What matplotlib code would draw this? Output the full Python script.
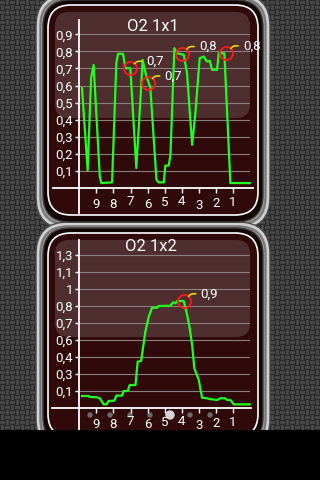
import numpy as np
import matplotlib
matplotlib.use('Agg')
import matplotlib.pyplot as plt
from matplotlib.patches import FancyBboxPatch, Circle, Rectangle

plt.rcParams['font.family'] = ['Roboto', 'DejaVu Sans']

# ---- data (seconds ago, sensor voltage) ----
t1 = [9.84, 9.51, 9.31, 9.16, 8.80, 8.71, 8.08, 7.83, 7.73, 7.44, 7.30, 7.01,
      6.66, 6.42, 6.29, 6.07, 5.84, 5.48, 5.35, 5.05, 4.96, 4.76, 4.66, 4.43,
      4.27, 3.88, 3.69, 3.39, 3.20, 2.95, 2.71, 2.52, 2.36, 2.22, 1.93, 1.83,
      1.50, 1.15, 0.02]
o2_1x1 = [0.585, 0.103, 0.643, 0.721, 0.068, 0.029, 0.033, 0.731, 0.786, 0.786,
          0.702, 0.702, 0.117, 0.517, 0.750, 0.653, 0.591, 0.049, 0.033, 0.033,
          0.131, 0.131, 0.195, 0.819, 0.789, 0.780, 0.673, 0.253, 0.439, 0.760,
          0.770, 0.741, 0.745, 0.692, 0.692, 0.789, 0.789, 0.029, 0.029]

t2 = [9.84, 9.45, 9.39, 8.96, 8.80, 8.57, 8.41, 8.28, 7.95, 7.83, 7.50, 7.40,
      7.16, 7.05, 6.71, 6.58, 6.38, 6.13, 5.93, 5.74, 5.45, 5.35, 4.66, 4.51,
      4.37, 4.27, 3.88, 3.69, 3.53, 3.39, 3.26, 3.00, 2.81, 2.52, 2.36, 1.93,
      1.73, 1.44, 1.34, 1.15, 0.95, 0.02]
o2_1x2 = [0.099, 0.099, 0.091, 0.088, 0.080, 0.030, 0.030, 0.058, 0.060, 0.102,
          0.102, 0.140, 0.140, 0.189, 0.189, 0.382, 0.387, 0.629, 0.752, 0.826,
          0.826, 0.840, 0.843, 0.870, 0.862, 0.881, 0.881, 0.771, 0.656, 0.519,
          0.327, 0.231, 0.085, 0.080, 0.074, 0.066, 0.080, 0.080, 0.066, 0.066,
          0.030, 0.030]

# highlighted points
marks1_t = [7.05, 5.99, 3.98, 1.40]
marks1_v = [0.700, 0.614, 0.786, 0.790]
marks1_lbl = ['0,7', '0,7', '0,8', '0,8']
marks2_t = [3.88]
marks2_v = [0.881]
marks2_lbl = ['0,9']

xticks = [9, 8, 7, 6, 5, 4, 3, 2, 1]
yticks1 = [0.1, 0.2, 0.3, 0.4, 0.5, 0.6, 0.7, 0.8, 0.9]
ylabels1 = ['0,1', '0,2', '0,3', '0,4', '0,5', '0,6', '0,7', '0,8', '0,9']
yticks2 = [0.14, 0.28, 0.42, 0.56, 0.70, 0.84, 0.98, 1.12, 1.26]
ylabels2 = ['0,1', '0,3', '0,4', '0,6', '0,7', '0,8', '1', '1,1', '1,3']

W, H = 320, 480
GREEN = '#1eff1e'
MAROON = '#300a0a'


def box(l, t, r, b):
    return [l / W, 1 - b / H, (r - l) / W, (b - t) / H]


def rrect(ax, l, t, r, b, rad, **kw):
    p = FancyBboxPatch((l, t), r - l, b - t,
                       boxstyle="round,pad=0,rounding_size=%g" % rad, **kw)
    ax.add_patch(p)
    return p


fig = plt.figure(figsize=(W / 100, H / 100), dpi=100)

# ---- background: carbon weave + bezels ----
bg = fig.add_axes([0, 0, 1, 1])
bg.set_xlim(0, W)
bg.set_ylim(H, 0)
bg.axis('off')

yy, xx = np.mgrid[0:H, 0:W]
cell = 5
chk = ((xx // cell) + (yy // cell)) % 2
fx = np.sin(np.pi * ((xx % cell) + 0.5) / cell)
fy = np.sin(np.pi * ((yy % cell) + 0.5) / cell)
weave = 0.11 + 0.19 * np.where(chk, fx, fy)
bg.imshow(weave, cmap='gray', vmin=0, vmax=1, extent=(0, W, H, 0),
          interpolation='nearest', zorder=0)

for (l, t, r, b, glass_b) in [(36, -6, 270, 229, 118), (36, 222, 270, 451, 337)]:
    rrect(bg, l, t, r, b, 32, fc='#9a9a9a', ec='#4e4e4e', lw=1, zorder=1)
    rrect(bg, l + 2, t + 2, r - 2, b - 2, 30, fc='none', ec='#d2d2d2', lw=1.6, zorder=1)
    rrect(bg, l + 4.5, t + 4.5, r - 4.5, b - 4.5, 28, fc='none', ec='#777777', lw=1.2, zorder=1)
    rrect(bg, l + 7, t + 6, r - 7, b - 7, 27, fc='#140303', ec='#3a3a3a', lw=1, zorder=2)
    rrect(bg, l + 12, t + 11, r - 12, b - 14, 23, fc=MAROON, ec='white', lw=1.2, zorder=3)
    rrect(bg, 55, t + 18, 250, glass_b, 14, fc='white', ec='none', alpha=0.15, zorder=4)

# page indicator dots
for px in [90, 110, 130, 150, 190, 210]:
    bg.add_patch(Circle((px, 415), 2.7, fc='#6a6a6a', ec='none', zorder=5))
bg.add_patch(Circle((170, 415), 4.7, fc='#d4d4d4', ec='none', zorder=5))

# label vertical offsets (px below axis) for the rolling time labels
xlab_off = [16.3, 16.3, 13.3, 16.8, 14.3, 13.8, 17.2, 15.2, 14.8]


def gauge(rect, t, v, ymax, yt, yl, title, mt, mv, ml, ext_left, ext_bottom, ext_right):
    ax = fig.add_axes(rect)
    ax.patch.set_alpha(0)
    ax.set_xlim(10, 0)
    ax.set_ylim(0, ymax)
    for s in ax.spines.values():
        s.set_visible(False)
    ax.set_yticks(yt)
    ax.set_yticklabels(yl)
    ax.set_xticks(xticks)
    ax.set_xticklabels([])
    ax.tick_params(axis='y', colors='white', length=3, width=1, pad=1.5, labelsize=9.5)
    ax.tick_params(axis='x', colors='white', length=3.6, width=1)
    ax.grid(axis='y', color='#8c7e7e', lw=0.8)
    ax.set_axisbelow(True)
    # axis lines, extending past the plot box
    ax.plot([ext_left, ext_right], [0, 0], color='white', lw=1.3, clip_on=False, zorder=3)
    ax.plot([10, 10], [ext_bottom, ymax], color='white', lw=1.3, clip_on=False, zorder=3)
    ax.plot(t, v, color=GREEN, lw=1.6, zorder=4, clip_on=False)
    for x, off in zip(xticks, xlab_off):
        ax.annotate(str(x), xy=(x, 0), xytext=(0, -off * 0.72), textcoords='offset points',
                    ha='center', va='center', color='white', fontsize=9.5)
    for x, y, s in zip(mt, mv, ml):
        ax.plot([x], [y], 'o', ms=9.4, mfc='none', mec='#ff1a1a', mew=1.3, zorder=5,
                clip_on=False)
        ax.annotate(s, xy=(x, y), xytext=(12.2, 5.2), textcoords='offset points',
                    ha='left', va='center', color='white', fontsize=9.5, zorder=6,
                    arrowprops=dict(arrowstyle='-', color='#ffe000', lw=1.1,
                                    shrinkA=1.5, shrinkB=4.8, relpos=(0, 0.5),
                                    connectionstyle='angle,angleA=0,angleB=45,rad=2'))
    ax.text(0.43, 0.96, title, transform=ax.transAxes, ha='center', va='center',
            color='white', fontsize=12)
    return ax


ax1 = gauge(box(79.3, 20, 250, 188), t1, o2_1x1, 0.984, yticks1, ylabels1, 'O2 1x1',
            marks1_t, marks1_v, marks1_lbl, 11.54, -0.146, -0.18)
ax2 = gauge(box(79.3, 240, 250, 408), t2, o2_1x2, 1.384, yticks2, ylabels2, 'O2 1x2',
            marks2_t, marks2_v, marks2_lbl, 11.6, -0.181, -0.05)
ax2.texts[-1].set_position((0.42, 0.96))

# black strip at the bottom of the screen
top = fig.add_axes([0, 0, 1, 50 / H])
top.axis('off')
top.add_patch(Rectangle((0, 0), 1, 1, transform=top.transAxes, fc='black', ec='none'))

fig.savefig('out.png', dpi=100)
